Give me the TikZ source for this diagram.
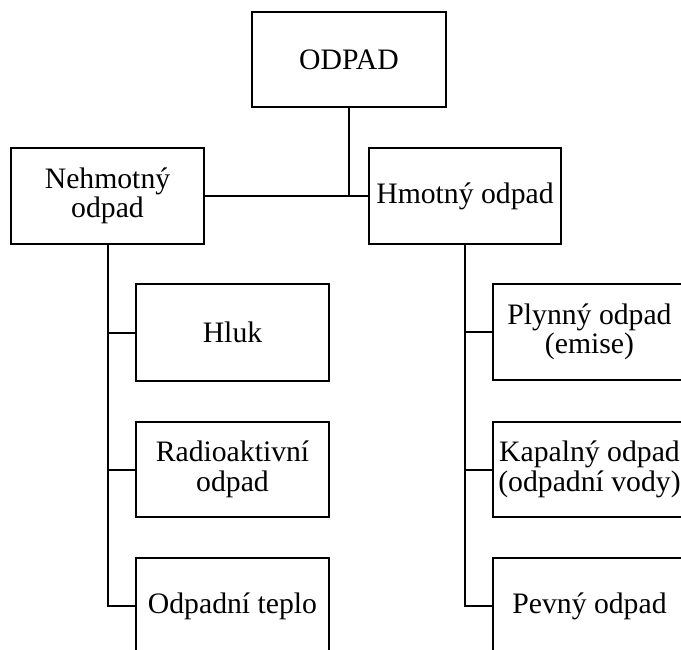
\documentclass[tikz,border=0pt]{standalone}
\usepackage{fontspec}
\setmainfont{Liberation Serif}
\usepackage{xcolor}
\usetikzlibrary{positioning}
\tikzset{
  wbox/.style={draw=black, line width=2pt, fill=white, inner sep=0pt,
    minimum width=\w, minimum height=\h, align=center,
    font=\fontsize{29.7}{29.5}\selectfont},
  wline/.style={line width=2pt, color=black}
}

\begin{document}
\begin{tikzpicture}[x=1pt, y=-1pt]%
  \def\w{193pt}%
  \def\h{96pt}
  \def\xl{232.5}
  \def\xr{589.5}
  \useasboundingbox (0,0) rectangle (681,650);
  \clip (0,0) rectangle (681,650);

  \node[wbox, minimum width=194pt, minimum height=95pt] (odpad) at (349,59.5) {ODPAD};
  \node[wbox] (nehmotny) at (107.5,196) {Nehmotný\\odpad};
  \node[wbox, minimum width=192pt] (hmotny) at (465,196) {Hmotný odpad};

  \node[wbox] (hluk) at (\xl,332.5) {Hluk};
  \node[wbox, minimum height=95pt] (radio) at (\xl,469.5) {Radioaktivní\\odpad};
  \node[wbox] (teplo) at (\xl,606) {Odpadní teplo};

  \node[wbox] (plyn) at (\xr,332) {Plynný odpad\\(emise)};
  \node[wbox, minimum height=95pt] (kapal) at (\xr,469.5) {Kapalný odpad\\(odpadní vody)};
  \node[wbox] (pevny) at (\xr,606) {Pevný odpad};

  \draw[wline] (odpad.south) -- (odpad.south |- nehmotny.east);
  \draw[wline] (nehmotny.east) -- (hmotny.west);
  %\draw[wline] (nehmotny.south) |- (teplo.west);
  \foreach \n in {hluk, radio, teplo}
    \draw[wline] (nehmotny.south) |- (\n.west);
  \foreach \n in {plyn, kapal, pevny}
    \draw[wline] (hmotny.south) |- (\n.west);
\end{tikzpicture}
\end{document}
